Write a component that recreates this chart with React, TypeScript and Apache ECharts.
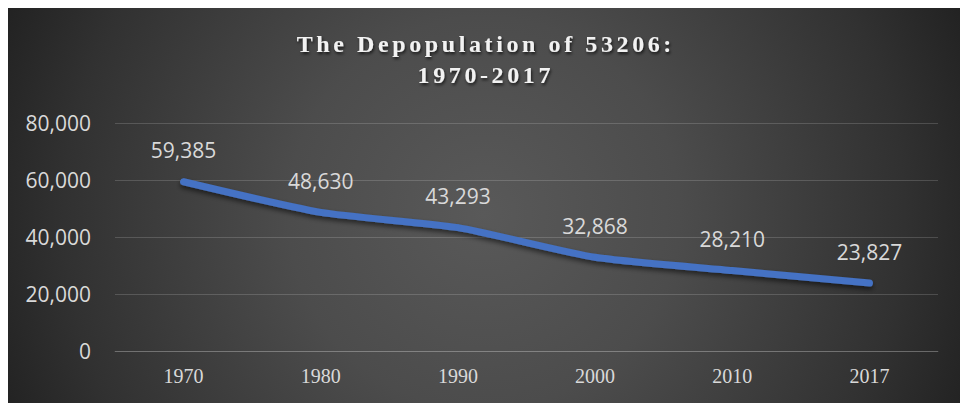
import React, { useEffect, useRef } from "react";
import * as echarts from "echarts";

const TITLE_LINES = ["The Depopulation of 53206:", "1970-2017"];
const years = ["1970", "1980", "1990", "2000", "2010", "2017"];
const population = [59385, 48630, 43293, 32868, 28210, 23827];
const yMin = 0;
const yMax = 80000;
const yInterval = 20000;

const W = 952;
const H = 395;
const SPACING = 3.6;

export default function App() {
  const ref = useRef<HTMLDivElement>(null);

  useEffect(() => {
    if (!ref.current) return;
    const chart = echarts.init(ref.current, undefined, { renderer: "svg" });
    const bg = new echarts.graphic.RadialGradient(
      476,
      205,
      560,
      [
        { offset: 0, color: "#595959" },
        { offset: 0.35, color: "#4c4c4c" },
        { offset: 0.75, color: "#313131" },
        { offset: 1, color: "#1c1c1c" },
      ],
      true
    );
    chart.setOption({
      animation: false,
      graphic: [
        {
          type: "rect",
          z: -10,
          silent: true,
          shape: { x: 0, y: 0, width: W, height: H },
          style: { fill: bg },
        },
      ],
      title: {
        text: TITLE_LINES.join("\n"),
        left: "center",
        top: 15,
        textStyle: {
          fontFamily: "'Liberation Serif', 'Times New Roman', serif",
          fontWeight: "bold",
          fontSize: 24,
          lineHeight: 31,
          align: "center",
          color: "#f2f2f2",
          textShadowColor: "rgba(0,0,0,0.7)",
          textShadowBlur: 3,
          textShadowOffsetX: 1,
          textShadowOffsetY: 2,
        },
      },
      grid: { left: 107, right: 22, top: 115, bottom: 52, containLabel: false },
      xAxis: {
        type: "category",
        data: years,
        boundaryGap: true,
        axisLine: { show: true, lineStyle: { color: "rgba(255,255,255,0.16)", width: 1 } },
        axisTick: { show: false },
        axisLabel: {
          margin: 15,
          color: "#d9d9d9",
          fontFamily: "'Liberation Serif', 'Times New Roman', serif",
          fontSize: 20,
        },
      },
      yAxis: {
        type: "value",
        min: yMin,
        max: yMax,
        interval: yInterval,
        axisLine: { show: false },
        axisTick: { show: false },
        splitLine: { lineStyle: { color: "rgba(255,255,255,0.16)", width: 1 } },
        axisLabel: {
          margin: 24,
          color: "#d9d9d9",
          fontFamily: "'Open Sans', sans-serif",
          fontSize: 21,
          formatter: (v: number) => v.toLocaleString("en-US"),
        },
      },
      series: [
        {
          type: "line",
          data: population,
          smooth: 0.2,
          symbol: "circle",
          symbolSize: 6,
          showSymbol: true,
          itemStyle: { color: "#4472C4", borderWidth: 0 },
          lineStyle: {
            color: "#4472C4",
            width: 7,
            cap: "round",
            join: "round",
            shadowColor: "rgba(0,0,0,0.55)",
            shadowBlur: 5,
            shadowOffsetY: 3,
          },
          label: {
            show: true,
            position: "top",
            distance: 18,
            color: "#d9d9d9",
            fontFamily: "'Open Sans', sans-serif",
            fontSize: 21,
            formatter: (p: any) => Number(p.value).toLocaleString("en-US"),
          },
        },
      ],
    });

    const fix = () => {
      const root = ref.current;
      if (!root) return;
      const svg = root.querySelector("svg");
      if (!svg) return;
      const sr = svg.getBoundingClientRect();
      root.querySelectorAll("text").forEach((t) => {
        const c = (t.textContent || "").trim();
        if (TITLE_LINES.includes(c)) {
          if (t.getAttribute("data-fixed") === "1") return;
          t.setAttribute("letter-spacing", String(SPACING));
          const r = t.getBoundingClientRect();
          const cx = r.left + (r.width - SPACING) / 2;
          const target = sr.left + W / 2;
          t.setAttribute("dx", String(target - cx));
          t.setAttribute("data-fixed", "1");
        }
      });
    };
    fix();
    chart.on("finished", fix);
    const timer = setTimeout(fix, 50);

    return () => {
      clearTimeout(timer);
      chart.dispose();
    };
  }, []);

  return (
    <div
      ref={ref}
      style={{ position: "absolute", left: 8, top: 8, width: W, height: H }}
    />
  );
}
